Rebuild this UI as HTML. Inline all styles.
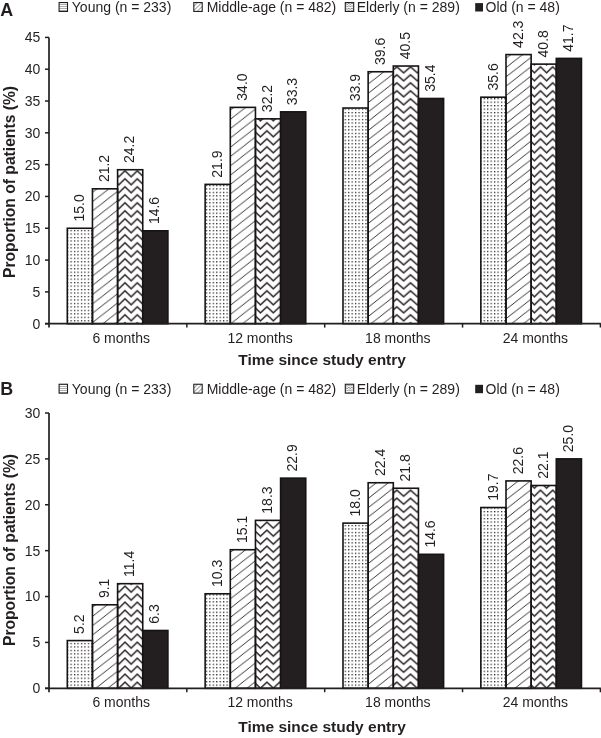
<!DOCTYPE html>
<html><head><meta charset="utf-8"><style>
html,body{margin:0;padding:0;background:#fff;}
svg{display:block;will-change:transform;}
text{font-family:"Liberation Sans",sans-serif;fill:#231f20;}
</style></head><body>
<svg width="601" height="738" viewBox="0 0 601 738">
<defs>
<pattern id="dots0" patternUnits="userSpaceOnUse" width="3.45" height="3.47" x="70.50" y="229.95"><rect x="-0.15" y="-0.15" width="1.4" height="1.4" fill="#1e1e1e"/></pattern>
<pattern id="dots1" patternUnits="userSpaceOnUse" width="3.45" height="3.47" x="209.25" y="229.95"><rect x="-0.15" y="-0.15" width="1.4" height="1.4" fill="#1e1e1e"/></pattern>
<pattern id="dots2" patternUnits="userSpaceOnUse" width="3.45" height="3.47" x="344.65" y="229.95"><rect x="-0.15" y="-0.15" width="1.4" height="1.4" fill="#1e1e1e"/></pattern>
<pattern id="dots3" patternUnits="userSpaceOnUse" width="3.45" height="3.47" x="483.65" y="229.95"><rect x="-0.15" y="-0.15" width="1.4" height="1.4" fill="#1e1e1e"/></pattern>
<pattern id="diagA0" patternUnits="userSpaceOnUse" width="11.923" height="9.3" x="93.3" y="238.2"><path d="M-11.923,9.300 L11.923,-9.300 M-11.923,18.600 L23.846,-9.300 M0,18.600 L23.846,0" stroke="#1a1a1a" stroke-width="0.9" fill="none"/></pattern>
<pattern id="diagA1" patternUnits="userSpaceOnUse" width="11.923" height="9.3" x="230.9" y="239.8"><path d="M-11.923,9.300 L11.923,-9.300 M-11.923,18.600 L23.846,-9.300 M0,18.600 L23.846,0" stroke="#1a1a1a" stroke-width="0.9" fill="none"/></pattern>
<pattern id="diagA2" patternUnits="userSpaceOnUse" width="11.923" height="9.3" x="369.0" y="241.5"><path d="M-11.923,9.300 L11.923,-9.300 M-11.923,18.600 L23.846,-9.300 M0,18.600 L23.846,0" stroke="#1a1a1a" stroke-width="0.9" fill="none"/></pattern>
<pattern id="diagA3" patternUnits="userSpaceOnUse" width="11.923" height="9.3" x="507.0" y="243.5"><path d="M-11.923,9.300 L11.923,-9.300 M-11.923,18.600 L23.846,-9.300 M0,18.600 L23.846,0" stroke="#1a1a1a" stroke-width="0.9" fill="none"/></pattern>
<pattern id="diagB0" patternUnits="userSpaceOnUse" width="11.923" height="9.3" x="93.0" y="616.0"><path d="M-11.923,9.300 L11.923,-9.300 M-11.923,18.600 L23.846,-9.300 M0,18.600 L23.846,0" stroke="#1a1a1a" stroke-width="0.9" fill="none"/></pattern>
<pattern id="diagB1" patternUnits="userSpaceOnUse" width="11.923" height="9.3" x="231.0" y="579.75"><path d="M-11.923,9.300 L11.923,-9.300 M-11.923,18.600 L23.846,-9.300 M0,18.600 L23.846,0" stroke="#1a1a1a" stroke-width="0.9" fill="none"/></pattern>
<pattern id="diagB2" patternUnits="userSpaceOnUse" width="11.923" height="9.3" x="369.0" y="581.5"><path d="M-11.923,9.300 L11.923,-9.300 M-11.923,18.600 L23.846,-9.300 M0,18.600 L23.846,0" stroke="#1a1a1a" stroke-width="0.9" fill="none"/></pattern>
<pattern id="diagB3" patternUnits="userSpaceOnUse" width="11.923" height="9.3" x="507.0" y="573.5"><path d="M-11.923,9.300 L11.923,-9.300 M-11.923,18.600 L23.846,-9.300 M0,18.600 L23.846,0" stroke="#1a1a1a" stroke-width="0.9" fill="none"/></pattern>
<pattern id="zigA0" patternUnits="userSpaceOnUse" width="12.3" height="8.0" x="125.0" y="66.8"><path d="M-6.15,-2.00 L0,-8.00 L6.15,-2.00 L12.30,-8.00 L18.45,-2.00 M-6.15,6.00 L0,0.00 L6.15,6.00 L12.30,0.00 L18.45,6.00 M-6.15,14.00 L0,8.00 L6.15,14.00 L12.30,8.00 L18.45,14.00 " stroke="#231f20" stroke-width="1.5" fill="none" stroke-linejoin="miter" stroke-miterlimit="10"/></pattern>
<pattern id="zigA1" patternUnits="userSpaceOnUse" width="12.8" height="8.0" x="266.9" y="66.8"><path d="M-6.40,-2.00 L0,-8.00 L6.40,-2.00 L12.80,-8.00 L19.20,-2.00 M-6.40,6.00 L0,0.00 L6.40,6.00 L12.80,0.00 L19.20,6.00 M-6.40,14.00 L0,8.00 L6.40,14.00 L12.80,8.00 L19.20,14.00 " stroke="#231f20" stroke-width="1.5" fill="none" stroke-linejoin="miter" stroke-miterlimit="10"/></pattern>
<pattern id="zigA2" patternUnits="userSpaceOnUse" width="13.7" height="8.0" x="396.8" y="66.8"><path d="M-6.85,-2.00 L0,-8.00 L6.85,-2.00 L13.70,-8.00 L20.55,-2.00 M-6.85,6.00 L0,0.00 L6.85,6.00 L13.70,0.00 L20.55,6.00 M-6.85,14.00 L0,8.00 L6.85,14.00 L13.70,8.00 L20.55,14.00 " stroke="#231f20" stroke-width="1.5" fill="none" stroke-linejoin="miter" stroke-miterlimit="10"/></pattern>
<pattern id="zigA3" patternUnits="userSpaceOnUse" width="12.2" height="8.0" x="540.5" y="66.8"><path d="M-6.10,-2.00 L0,-8.00 L6.10,-2.00 L12.20,-8.00 L18.30,-2.00 M-6.10,6.00 L0,0.00 L6.10,6.00 L12.20,0.00 L18.30,6.00 M-6.10,14.00 L0,8.00 L6.10,14.00 L12.20,8.00 L18.30,14.00 " stroke="#231f20" stroke-width="1.5" fill="none" stroke-linejoin="miter" stroke-miterlimit="10"/></pattern>
<pattern id="zigB0" patternUnits="userSpaceOnUse" width="12.3" height="8.0" x="125.0" y="626.2"><path d="M-6.15,-2.00 L0,-8.00 L6.15,-2.00 L12.30,-8.00 L18.45,-2.00 M-6.15,6.00 L0,0.00 L6.15,6.00 L12.30,0.00 L18.45,6.00 M-6.15,14.00 L0,8.00 L6.15,14.00 L12.30,8.00 L18.45,14.00 " stroke="#231f20" stroke-width="1.5" fill="none" stroke-linejoin="miter" stroke-miterlimit="10"/></pattern>
<pattern id="zigB1" patternUnits="userSpaceOnUse" width="12.8" height="8.0" x="266.9" y="626.2"><path d="M-6.40,-2.00 L0,-8.00 L6.40,-2.00 L12.80,-8.00 L19.20,-2.00 M-6.40,6.00 L0,0.00 L6.40,6.00 L12.80,0.00 L19.20,6.00 M-6.40,14.00 L0,8.00 L6.40,14.00 L12.80,8.00 L19.20,14.00 " stroke="#231f20" stroke-width="1.5" fill="none" stroke-linejoin="miter" stroke-miterlimit="10"/></pattern>
<pattern id="zigB2" patternUnits="userSpaceOnUse" width="13.7" height="8.0" x="396.8" y="626.2"><path d="M-6.85,-2.00 L0,-8.00 L6.85,-2.00 L13.70,-8.00 L20.55,-2.00 M-6.85,6.00 L0,0.00 L6.85,6.00 L13.70,0.00 L20.55,6.00 M-6.85,14.00 L0,8.00 L6.85,14.00 L13.70,8.00 L20.55,14.00 " stroke="#231f20" stroke-width="1.5" fill="none" stroke-linejoin="miter" stroke-miterlimit="10"/></pattern>
<pattern id="zigB3" patternUnits="userSpaceOnUse" width="12.2" height="8.0" x="540.5" y="626.2"><path d="M-6.10,-2.00 L0,-8.00 L6.10,-2.00 L12.20,-8.00 L18.30,-2.00 M-6.10,6.00 L0,0.00 L6.10,6.00 L12.20,0.00 L18.30,6.00 M-6.10,14.00 L0,8.00 L6.10,14.00 L12.20,8.00 L18.30,14.00 " stroke="#231f20" stroke-width="1.5" fill="none" stroke-linejoin="miter" stroke-miterlimit="10"/></pattern>
<pattern id="ldots" patternUnits="userSpaceOnUse" width="8" height="2">
<rect x="0" y="0" width="8" height="0.8" fill="#999"/>
</pattern>
<pattern id="ldiag" patternUnits="userSpaceOnUse" width="3" height="3" patternTransform="rotate(-45)">
<rect x="0" y="0" width="3" height="0.8" fill="#888"/>
</pattern>
<pattern id="lzig" patternUnits="userSpaceOnUse" width="3.2" height="2.4" x="345.5" y="3.2">
<path d="M-1.6,1.4 L0,0 L1.6,1.4 L3.2,0 L4.8,1.4 M-1.6,3.8 L0,2.4 L1.6,3.8 L3.2,2.4 L4.8,3.8 M-1.6,-1.0 L0,-2.4 L1.6,-1.0 L3.2,-2.4 L4.8,-1.0" stroke="#666" stroke-width="0.75" fill="none"/>
</pattern>
</defs>

<text x="0.2" y="15.70" font-size="17.9" font-weight="700">A</text>
<rect x="59.10" y="2.55" width="8.40" height="8.9" fill="url(#ldots)" stroke="#231f20" stroke-width="1.1"/>
<text x="71.80" y="11.90" font-size="14.0">Young (n = 233)</text>
<rect x="193.80" y="2.55" width="8.40" height="8.9" fill="url(#ldiag)" stroke="#231f20" stroke-width="1.1"/>
<text x="206.70" y="11.90" font-size="14.0">Middle-age (n = 482)</text>
<rect x="345.30" y="2.55" width="8.40" height="8.9" fill="url(#lzig)" stroke="#231f20" stroke-width="1.1"/>
<text x="356.70" y="11.90" font-size="14.0">Elderly (n = 289)</text>
<rect x="475.20" y="3.10" width="7.8" height="8.4" fill="#231f20"/>
<text x="485.50" y="11.90" font-size="14.0">Old (n = 48)</text>
<rect x="67.30" y="228.27" width="25.15" height="95.43" fill="url(#dots0)" stroke="#171314" stroke-width="1.6"/>
<text transform="translate(83.97,221.57) rotate(-90)" font-size="14.0">15.0</text>
<rect x="92.45" y="188.82" width="25.15" height="134.88" fill="url(#diagA0)" stroke="#171314" stroke-width="1.6"/>
<text transform="translate(109.12,182.12) rotate(-90)" font-size="14.0">21.2</text>
<rect x="117.60" y="169.73" width="25.15" height="153.97" fill="url(#zigA0)" stroke="#171314" stroke-width="1.6"/>
<text transform="translate(134.27,163.03) rotate(-90)" font-size="14.0">24.2</text>
<rect x="142.75" y="230.81" width="25.15" height="92.89" fill="#231f20" stroke="#171314" stroke-width="1.6"/>
<text transform="translate(159.42,224.11) rotate(-90)" font-size="14.0">14.6</text>
<rect x="205.15" y="184.37" width="25.15" height="139.33" fill="url(#dots1)" stroke="#171314" stroke-width="1.6"/>
<text transform="translate(221.82,177.67) rotate(-90)" font-size="14.0">21.9</text>
<rect x="230.30" y="107.38" width="25.15" height="216.32" fill="url(#diagA1)" stroke="#171314" stroke-width="1.6"/>
<text transform="translate(246.97,100.68) rotate(-90)" font-size="14.0">34.0</text>
<rect x="255.45" y="118.84" width="25.15" height="204.86" fill="url(#zigA1)" stroke="#171314" stroke-width="1.6"/>
<text transform="translate(272.12,112.14) rotate(-90)" font-size="14.0">32.2</text>
<rect x="280.60" y="111.84" width="25.15" height="211.86" fill="#231f20" stroke="#171314" stroke-width="1.6"/>
<text transform="translate(297.27,105.14) rotate(-90)" font-size="14.0">33.3</text>
<rect x="343.00" y="108.02" width="25.15" height="215.68" fill="url(#dots2)" stroke="#171314" stroke-width="1.6"/>
<text transform="translate(359.68,101.32) rotate(-90)" font-size="14.0">33.9</text>
<rect x="368.15" y="71.76" width="25.15" height="251.94" fill="url(#diagA2)" stroke="#171314" stroke-width="1.6"/>
<text transform="translate(384.82,65.06) rotate(-90)" font-size="14.0">39.6</text>
<rect x="393.30" y="66.03" width="25.15" height="257.67" fill="url(#zigA2)" stroke="#171314" stroke-width="1.6"/>
<text transform="translate(409.98,59.33) rotate(-90)" font-size="14.0">40.5</text>
<rect x="418.45" y="98.48" width="25.15" height="225.22" fill="#231f20" stroke="#171314" stroke-width="1.6"/>
<text transform="translate(435.12,91.78) rotate(-90)" font-size="14.0">35.4</text>
<rect x="480.85" y="97.20" width="25.15" height="226.50" fill="url(#dots3)" stroke="#171314" stroke-width="1.6"/>
<text transform="translate(497.52,90.50) rotate(-90)" font-size="14.0">35.6</text>
<rect x="506.00" y="54.58" width="25.15" height="269.12" fill="url(#diagA3)" stroke="#171314" stroke-width="1.6"/>
<text transform="translate(522.67,47.88) rotate(-90)" font-size="14.0">42.3</text>
<rect x="531.15" y="64.12" width="25.15" height="259.58" fill="url(#zigA3)" stroke="#171314" stroke-width="1.6"/>
<text transform="translate(547.83,57.42) rotate(-90)" font-size="14.0">40.8</text>
<rect x="556.30" y="58.40" width="25.15" height="265.30" fill="#231f20" stroke="#171314" stroke-width="1.6"/>
<text transform="translate(572.98,51.70) rotate(-90)" font-size="14.0">41.7</text>
<line x1="49.0" y1="37.40" x2="49.0" y2="327.60" stroke="#231f20" stroke-width="1.7"/>
<line x1="45.0" y1="323.70" x2="600.90" y2="323.70" stroke="#231f20" stroke-width="1.7"/>
<line x1="45.0" y1="323.70" x2="49.0" y2="323.70" stroke="#231f20" stroke-width="1.5"/>
<text x="40.3" y="328.60" font-size="14.0" text-anchor="end">0</text>
<line x1="45.0" y1="291.89" x2="49.0" y2="291.89" stroke="#231f20" stroke-width="1.5"/>
<text x="40.3" y="296.79" font-size="14.0" text-anchor="end">5</text>
<line x1="45.0" y1="260.08" x2="49.0" y2="260.08" stroke="#231f20" stroke-width="1.5"/>
<text x="40.3" y="264.98" font-size="14.0" text-anchor="end">10</text>
<line x1="45.0" y1="228.27" x2="49.0" y2="228.27" stroke="#231f20" stroke-width="1.5"/>
<text x="40.3" y="233.17" font-size="14.0" text-anchor="end">15</text>
<line x1="45.0" y1="196.46" x2="49.0" y2="196.46" stroke="#231f20" stroke-width="1.5"/>
<text x="40.3" y="201.36" font-size="14.0" text-anchor="end">20</text>
<line x1="45.0" y1="164.64" x2="49.0" y2="164.64" stroke="#231f20" stroke-width="1.5"/>
<text x="40.3" y="169.54" font-size="14.0" text-anchor="end">25</text>
<line x1="45.0" y1="132.83" x2="49.0" y2="132.83" stroke="#231f20" stroke-width="1.5"/>
<text x="40.3" y="137.73" font-size="14.0" text-anchor="end">30</text>
<line x1="45.0" y1="101.02" x2="49.0" y2="101.02" stroke="#231f20" stroke-width="1.5"/>
<text x="40.3" y="105.92" font-size="14.0" text-anchor="end">35</text>
<line x1="45.0" y1="69.21" x2="49.0" y2="69.21" stroke="#231f20" stroke-width="1.5"/>
<text x="40.3" y="74.11" font-size="14.0" text-anchor="end">40</text>
<line x1="45.0" y1="37.40" x2="49.0" y2="37.40" stroke="#231f20" stroke-width="1.5"/>
<text x="40.3" y="42.30" font-size="14.0" text-anchor="end">45</text>
<line x1="186.85" y1="323.70" x2="186.85" y2="327.60" stroke="#231f20" stroke-width="1.5"/>
<line x1="324.70" y1="323.70" x2="324.70" y2="327.60" stroke="#231f20" stroke-width="1.5"/>
<line x1="462.55" y1="323.70" x2="462.55" y2="327.60" stroke="#231f20" stroke-width="1.5"/>
<line x1="600.40" y1="323.70" x2="600.40" y2="327.60" stroke="#231f20" stroke-width="1.5"/>
<text x="121.20" y="343.00" font-size="14.0" text-anchor="middle">6 months</text>
<text x="260.10" y="343.00" font-size="14.0" text-anchor="middle">12 months</text>
<text x="397.80" y="343.00" font-size="14.0" text-anchor="middle">18 months</text>
<text x="535.40" y="343.00" font-size="14.0" text-anchor="middle">24 months</text>
<text x="322.1" y="365.00" font-size="15.5" font-weight="700" text-anchor="middle">Time since study entry</text>
<text transform="translate(15.2,182.00) rotate(-90)" font-size="15.65" font-weight="700" text-anchor="middle">Proportion of patients (%)</text>
<text x="0.2" y="394.90" font-size="17.9" font-weight="700">B</text>
<rect x="59.10" y="384.25" width="8.40" height="8.9" fill="url(#ldots)" stroke="#231f20" stroke-width="1.1"/>
<text x="71.80" y="393.60" font-size="14.0">Young (n = 233)</text>
<rect x="193.80" y="384.25" width="8.40" height="8.9" fill="url(#ldiag)" stroke="#231f20" stroke-width="1.1"/>
<text x="206.70" y="393.60" font-size="14.0">Middle-age (n = 482)</text>
<rect x="345.30" y="384.25" width="8.40" height="8.9" fill="url(#lzig)" stroke="#231f20" stroke-width="1.1"/>
<text x="356.70" y="393.60" font-size="14.0">Elderly (n = 289)</text>
<rect x="475.20" y="384.80" width="7.8" height="8.4" fill="#231f20"/>
<text x="485.50" y="393.60" font-size="14.0">Old (n = 48)</text>
<rect x="67.30" y="640.58" width="25.15" height="47.72" fill="url(#dots0)" stroke="#171314" stroke-width="1.6"/>
<text transform="translate(83.97,633.88) rotate(-90)" font-size="14.0">5.2</text>
<rect x="92.45" y="604.79" width="25.15" height="83.51" fill="url(#diagB0)" stroke="#171314" stroke-width="1.6"/>
<text transform="translate(109.12,598.09) rotate(-90)" font-size="14.0">9.1</text>
<rect x="117.60" y="583.69" width="25.15" height="104.61" fill="url(#zigB0)" stroke="#171314" stroke-width="1.6"/>
<text transform="translate(134.27,576.99) rotate(-90)" font-size="14.0">11.4</text>
<rect x="142.75" y="630.49" width="25.15" height="57.81" fill="#231f20" stroke="#171314" stroke-width="1.6"/>
<text transform="translate(159.42,623.79) rotate(-90)" font-size="14.0">6.3</text>
<rect x="205.15" y="593.78" width="25.15" height="94.52" fill="url(#dots1)" stroke="#171314" stroke-width="1.6"/>
<text transform="translate(221.82,587.08) rotate(-90)" font-size="14.0">10.3</text>
<rect x="230.30" y="549.73" width="25.15" height="138.57" fill="url(#diagB1)" stroke="#171314" stroke-width="1.6"/>
<text transform="translate(246.97,543.03) rotate(-90)" font-size="14.0">15.1</text>
<rect x="255.45" y="520.37" width="25.15" height="167.93" fill="url(#zigB1)" stroke="#171314" stroke-width="1.6"/>
<text transform="translate(272.12,513.67) rotate(-90)" font-size="14.0">18.3</text>
<rect x="280.60" y="478.15" width="25.15" height="210.15" fill="#231f20" stroke="#171314" stroke-width="1.6"/>
<text transform="translate(297.27,471.45) rotate(-90)" font-size="14.0">22.9</text>
<rect x="343.00" y="523.12" width="25.15" height="165.18" fill="url(#dots2)" stroke="#171314" stroke-width="1.6"/>
<text transform="translate(359.68,516.42) rotate(-90)" font-size="14.0">18.0</text>
<rect x="368.15" y="482.74" width="25.15" height="205.56" fill="url(#diagB2)" stroke="#171314" stroke-width="1.6"/>
<text transform="translate(384.82,476.04) rotate(-90)" font-size="14.0">22.4</text>
<rect x="393.30" y="488.25" width="25.15" height="200.05" fill="url(#zigB2)" stroke="#171314" stroke-width="1.6"/>
<text transform="translate(409.98,481.55) rotate(-90)" font-size="14.0">21.8</text>
<rect x="418.45" y="554.32" width="25.15" height="133.98" fill="#231f20" stroke="#171314" stroke-width="1.6"/>
<text transform="translate(435.12,547.62) rotate(-90)" font-size="14.0">14.6</text>
<rect x="480.85" y="507.52" width="25.15" height="180.78" fill="url(#dots3)" stroke="#171314" stroke-width="1.6"/>
<text transform="translate(497.52,500.82) rotate(-90)" font-size="14.0">19.7</text>
<rect x="506.00" y="480.91" width="25.15" height="207.39" fill="url(#diagB3)" stroke="#171314" stroke-width="1.6"/>
<text transform="translate(522.67,474.21) rotate(-90)" font-size="14.0">22.6</text>
<rect x="531.15" y="485.50" width="25.15" height="202.80" fill="url(#zigB3)" stroke="#171314" stroke-width="1.6"/>
<text transform="translate(547.83,478.80) rotate(-90)" font-size="14.0">22.1</text>
<rect x="556.30" y="458.88" width="25.15" height="229.42" fill="#231f20" stroke="#171314" stroke-width="1.6"/>
<text transform="translate(572.98,452.18) rotate(-90)" font-size="14.0">25.0</text>
<line x1="49.0" y1="413.00" x2="49.0" y2="692.20" stroke="#231f20" stroke-width="1.7"/>
<line x1="45.0" y1="688.30" x2="600.90" y2="688.30" stroke="#231f20" stroke-width="1.7"/>
<line x1="45.0" y1="688.30" x2="49.0" y2="688.30" stroke="#231f20" stroke-width="1.5"/>
<text x="40.3" y="693.20" font-size="14.0" text-anchor="end">0</text>
<line x1="45.0" y1="642.42" x2="49.0" y2="642.42" stroke="#231f20" stroke-width="1.5"/>
<text x="40.3" y="647.32" font-size="14.0" text-anchor="end">5</text>
<line x1="45.0" y1="596.53" x2="49.0" y2="596.53" stroke="#231f20" stroke-width="1.5"/>
<text x="40.3" y="601.43" font-size="14.0" text-anchor="end">10</text>
<line x1="45.0" y1="550.65" x2="49.0" y2="550.65" stroke="#231f20" stroke-width="1.5"/>
<text x="40.3" y="555.55" font-size="14.0" text-anchor="end">15</text>
<line x1="45.0" y1="504.77" x2="49.0" y2="504.77" stroke="#231f20" stroke-width="1.5"/>
<text x="40.3" y="509.67" font-size="14.0" text-anchor="end">20</text>
<line x1="45.0" y1="458.88" x2="49.0" y2="458.88" stroke="#231f20" stroke-width="1.5"/>
<text x="40.3" y="463.78" font-size="14.0" text-anchor="end">25</text>
<line x1="45.0" y1="413.00" x2="49.0" y2="413.00" stroke="#231f20" stroke-width="1.5"/>
<text x="40.3" y="417.90" font-size="14.0" text-anchor="end">30</text>
<line x1="186.85" y1="688.30" x2="186.85" y2="692.20" stroke="#231f20" stroke-width="1.5"/>
<line x1="324.70" y1="688.30" x2="324.70" y2="692.20" stroke="#231f20" stroke-width="1.5"/>
<line x1="462.55" y1="688.30" x2="462.55" y2="692.20" stroke="#231f20" stroke-width="1.5"/>
<line x1="600.40" y1="688.30" x2="600.40" y2="692.20" stroke="#231f20" stroke-width="1.5"/>
<text x="121.20" y="706.60" font-size="14.0" text-anchor="middle">6 months</text>
<text x="260.10" y="706.60" font-size="14.0" text-anchor="middle">12 months</text>
<text x="397.80" y="706.60" font-size="14.0" text-anchor="middle">18 months</text>
<text x="535.40" y="706.60" font-size="14.0" text-anchor="middle">24 months</text>
<text x="322.1" y="732.00" font-size="15.5" font-weight="700" text-anchor="middle">Time since study entry</text>
<text transform="translate(15.2,550.00) rotate(-90)" font-size="15.65" font-weight="700" text-anchor="middle">Proportion of patients (%)</text>
</svg></body></html>
